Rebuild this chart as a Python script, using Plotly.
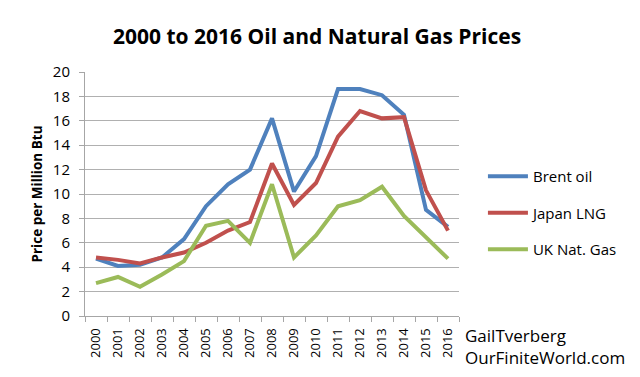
import plotly.graph_objects as go

years = [str(y) for y in range(2000, 2017)]
brent = [4.7, 4.1, 4.2, 4.8, 6.3, 9.0, 10.8, 12.0, 16.2, 10.2, 13.1, 18.6, 18.6, 18.1, 16.5, 8.7, 7.3]
japan_lng = [4.8, 4.6, 4.3, 4.8, 5.2, 6.0, 7.0, 7.7, 12.5, 9.1, 10.9, 14.7, 16.8, 16.2, 16.3, 10.3, 7.0]
uk_gas = [2.7, 3.2, 2.4, 3.4, 4.5, 7.4, 7.8, 6.0, 10.8, 4.8, 6.6, 9.0, 9.5, 10.6, 8.2, 6.5, 4.7]

font = "Open Sans"
fig = go.Figure()
for name, vals, col in [("Brent oil", brent, "#4F81BD"),
                        ("Japan LNG", japan_lng, "#C0504D"),
                        ("UK Nat. Gas", uk_gas, "#9BBB59")]:
    fig.add_trace(go.Scatter(x=years, y=vals, name=name, mode="lines", legendgroup=name,
                             line=dict(color=col, width=4)))

fig.update_layout(
    width=632, height=369,
    margin=dict(l=77, r=181, t=64, b=61, autoexpand=False),
    paper_bgcolor="white", plot_bgcolor="white",
    title=dict(text="<b>2000 to 2016 Oil and Natural Gas Prices</b>", x=0.489, xanchor="center",
               y=0.922, yanchor="middle", font=dict(family=font, size=21, color="black")),
    font=dict(family=font, color="black"),
    legend=dict(x=1.064, y=0.422, xanchor="left", yanchor="middle", font=dict(size=15),
                tracegroupgap=14, itemwidth=40, traceorder="grouped"),
    xaxis=dict(type="category", tickangle=-90, tickfont=dict(size=13), automargin=False,
               showline=True, linecolor="#a6a6a6", ticks="outside", tickson="boundaries",
               tickcolor="#a6a6a6", ticklen=5, showgrid=False, range=[-0.5, 16.5],
               ticklabelstandoff=6),
    yaxis=dict(range=[0, 20], dtick=2, tickfont=dict(size=15), showgrid=True, automargin=False,
               gridcolor="#b0b0b0", gridwidth=1, showline=True, linecolor="#a6a6a6",
               ticks="outside", tickcolor="#a6a6a6", ticklen=5, zeroline=False,
               ticklabelstandoff=6,
               title=dict(text="<b>Price per Million Btu</b>", font=dict(size=13.5), standoff=7)),
)
fig.add_annotation(text="GailTverberg", xref="paper", yref="paper", x=1.012, y=-0.078,
                   xanchor="left", yanchor="middle", showarrow=False, font=dict(size=17))
fig.add_annotation(text="OurFiniteWorld.com", xref="paper", yref="paper", x=1.012, y=-0.172,
                   xanchor="left", yanchor="middle", showarrow=False, font=dict(size=17))
fig.write_html("out.html")
